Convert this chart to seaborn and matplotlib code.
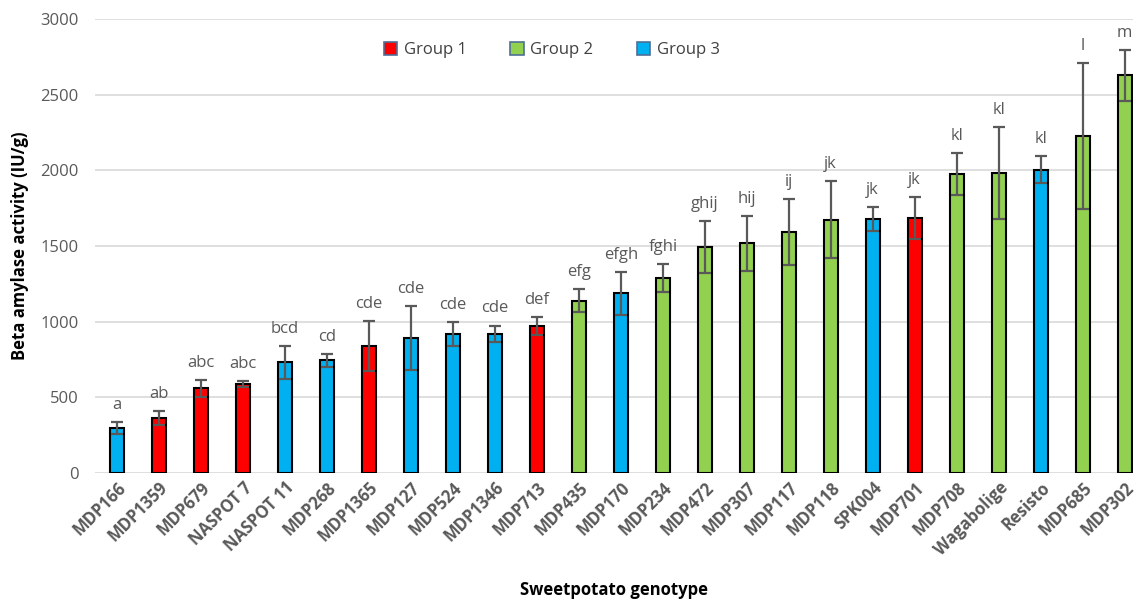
import numpy as np
import pandas as pd
import matplotlib
matplotlib.use("Agg")
import matplotlib.pyplot as plt
import seaborn as sns

# --- DATA ---
genotypes = ["MDP166", "MDP1359", "MDP679", "NASPOT 7", "NASPOT 11", "MDP268",
             "MDP1365", "MDP127", "MDP524", "MDP1346", "MDP713", "MDP435",
             "MDP170", "MDP234", "MDP472", "MDP307", "MDP117", "MDP118",
             "SPK004", "MDP701", "MDP708", "Wagabolige", "Resisto", "MDP685",
             "MDP302"]
groups = ["Group 3", "Group 1", "Group 1", "Group 1", "Group 3", "Group 3",
          "Group 1", "Group 3", "Group 3", "Group 3", "Group 1", "Group 2",
          "Group 3", "Group 2", "Group 2", "Group 2", "Group 2", "Group 2",
          "Group 3", "Group 1", "Group 2", "Group 2", "Group 3", "Group 2",
          "Group 2"]
activity = [298, 365, 560, 588, 732, 745, 840, 893, 920, 920, 972, 1140,
            1187, 1290, 1495, 1518, 1592, 1675, 1680, 1685, 1978, 1983, 2005,
            2228, 2628]
std_err = [40, 45, 57, 20, 110, 42, 163, 213, 78, 55, 62, 75, 140, 92, 172,
           180, 220, 255, 78, 137, 138, 303, 88, 482, 168]
letters = ["a", "ab", "abc", "abc", "bcd", "cd", "cde", "cde", "cde", "cde",
           "def", "efg", "efgh", "fghi", "ghij", "hij", "ij", "jk", "jk", "jk",
           "kl", "kl", "kl", "l", "m"]
group_order = ["Group 1", "Group 2", "Group 3"]
group_colors = ["#FF0000", "#92D050", "#00B0F0"]

df = pd.DataFrame({"genotype": genotypes, "group": groups,
                   "activity": activity, "err": std_err, "letter": letters})

# --- PLOT ---
sns.set_style("white")
plt.rcParams["font.family"] = ["Open Sans", "DejaVu Sans"]

fig = plt.figure(figsize=(11.37, 6.0), dpi=100)
ax = fig.add_axes([0.0836, 0.2117, 0.913, 0.7563])

sns.barplot(data=df, x="genotype", y="activity", hue="group",
            hue_order=group_order, palette=group_colors, dodge=False,
            saturation=1, width=0.33, edgecolor="black", linewidth=1.5,
            errorbar=None, ax=ax, zorder=3)

xpos = np.arange(len(df))
ax.errorbar(xpos, df["activity"], yerr=df["err"], fmt="none",
            ecolor="#595959", elinewidth=1.6, capsize=4, capthick=1.6,
            zorder=4)

for x, (v, e, t) in enumerate(zip(df["activity"], df["err"], df["letter"])):
    ax.text(x, v + e + 60, t, ha="center", va="bottom", fontsize=12,
            color="#595959")

ax.set_ylim(0, 3000)
ax.set_xlim(-0.52, 24.2)
ax.set_yticks(np.arange(0, 3001, 500))
ax.yaxis.grid(True, color="#D9D9D9", linewidth=1.2, zorder=0)
ax.set_axisbelow(True)
for s in ax.spines.values():
    s.set_visible(False)

ax.tick_params(axis="y", labelsize=12, labelcolor="#595959", length=0, pad=12)
ax.tick_params(axis="x", length=0, pad=4)
ax.set_xticks(xpos)
ax.set_xticklabels(genotypes, rotation=45, ha="right", rotation_mode="anchor",
                   fontsize=12, fontweight="bold", color="#595959")

ax.set_ylabel("Beta amylase activity (IU/g)", fontsize=12, fontweight="bold",
              color="black", labelpad=8)
ax.set_xlabel("Sweetpotato genotype", fontsize=12, fontweight="bold",
              color="black", labelpad=16)

handles, labels = ax.get_legend_handles_labels()
for h in handles:
    h.set_edgecolor("#4F6F96")
    h.set_linewidth(1.2)
ax.legend(handles, labels, loc="center", bbox_to_anchor=(0.44, 0.932),
          ncol=3, frameon=False, fontsize=12, handlelength=0.8,
          handleheight=0.8, columnspacing=2.6, handletextpad=0.4,
          labelcolor="#404040")

fig.savefig("out.png", dpi=100)
